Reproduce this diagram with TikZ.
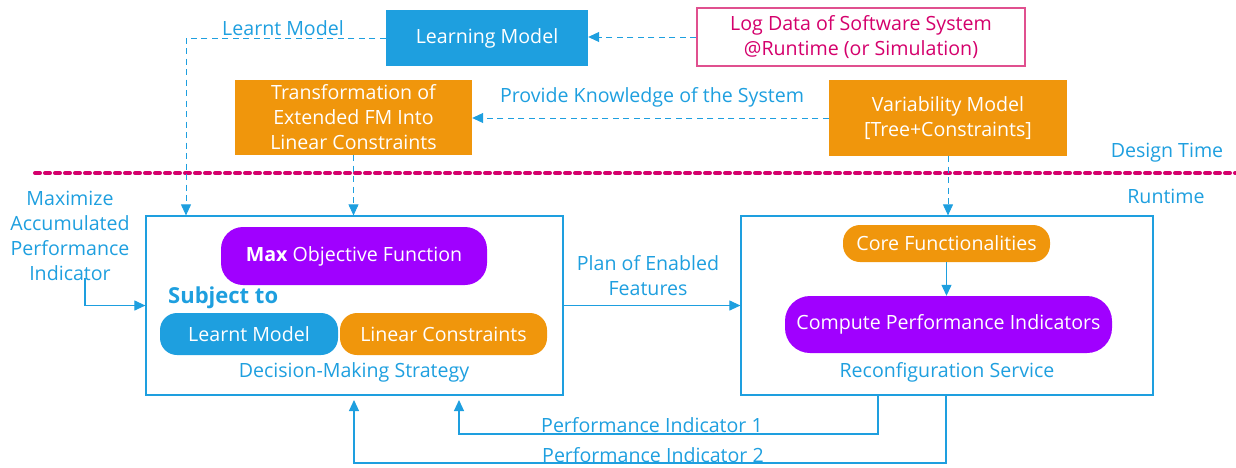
\documentclass[tikz,border=0pt]{standalone}
\usepackage{fontspec}
\setmainfont{Open Sans}
\usetikzlibrary{arrows.meta,calc}
\definecolor{mblue}{HTML}{1E9FDF}
\definecolor{morange}{HTML}{F0960C}
\definecolor{mpurple}{HTML}{A000FF}
\definecolor{mpink}{HTML}{D4006C}
\definecolor{mpinkb}{HTML}{E0508F}
\tikzset{
  base/.style={font=\fontsize{19.6}{25}\selectfont, inner sep=0pt, align=center},
  fillbox/.style={base, text=white, minimum width=#1},
  lbl/.style={base, text=mblue},
  frame/.style={draw=mblue, line width=1.2pt, fill=none},
  pill/.style={base, text=white, rounded corners=#1},
  arr/.style={draw=mblue, line width=1.1pt, -{Triangle[length=11pt,width=10pt]}},
  darr/.style={arr, dash pattern=on 6pt off 4.5pt, line width=0.9pt},
  sep/.style={draw=mpink, line width=4pt, dash pattern=on 5pt off 5pt, line cap=round}
}
\begin{document}
\begin{tikzpicture}[x=1pt,y=-1pt]
\useasboundingbox (0,0) rectangle (1236,467);
% top boxes
\node[fillbox=202pt, fill=mblue, minimum height=56pt] (lm) at (487,38) {Learning Model};
\node[base, draw=mpinkb, line width=1.1pt, text=mpink, minimum width=328pt, minimum height=58pt] (log) at (861,37) {Log Data of Software System\\@Runtime (or Simulation)};
\node[fillbox=237pt, fill=morange, minimum height=75pt] (tr) at (353.5,117.5) {Transformation of\\Extended FM Into\\Linear Constraints};
\node[fillbox=238pt, fill=morange, minimum height=76pt] (var) at (948,118) {Variability Model\\{}[Tree+Constraints]};
% separator
\coordinate (sepl) at (35,173);
\coordinate (sepr) at (1236,173);
\draw[sep] (sepl) -- (sepr);
\node[lbl] (dt) at (1167,153) {Design Time};
\node[lbl] (rt) at (1166,196) {Runtime};
% main frames
\node[frame, minimum width=417pt, minimum height=179pt] (dec) at (354.5,305.5) {};
\node[frame, minimum width=412pt, minimum height=179pt] (rec) at (947,305.5) {};
% inside decision
\node[pill=22pt, fill=mpurple, minimum width=266pt, minimum height=58pt] (max) at (354,256) {\textbf{Max} Objective Function};
\node[base, text=mblue, anchor=west, font=\fontsize{22}{26}\selectfont\bfseries] (subj) at (168,298) {Subject to};
\node[pill=17pt, fill=mblue, minimum width=178pt, minimum height=42pt] (lml) at (249,334) {Learnt Model};
\node[pill=17pt, fill=morange, minimum width=207pt, minimum height=42pt] (lc) at (443.5,334) {Linear Constraints};
\node[lbl] (dms) at (354,372) {Decision-Making Strategy};
% inside reconfiguration
\node[pill=17pt, fill=morange, minimum width=207pt, minimum height=37pt] (core) at (946.5,243.5) {Core Functionalities};
\node[pill=25pt, fill=mpurple, minimum width=327pt, minimum height=57pt] (cpi) at (948.5,324.5) {Compute Performance Indicators};
\node[lbl] (rs) at (947,372) {Reconfiguration Service};
% labels
\node[lbl] (lmlab) at (283,28) {Learnt Model};
\node[lbl] (pk) at (652,97) {Provide Knowledge of the System};
\node[lbl] (maxlab) at (70,236) {Maximize\\Accumulated\\Performance\\Indicator};
\node[lbl] (plan) at (648,276) {Plan of Enabled\\Features};
\node[lbl] (pi1) at (652,425) {Performance Indicator 1};
\node[lbl] (pi2) at (653,455) {Performance Indicator 2};
% coordinates
\coordinate (lmx) at (186,0);
\coordinate (mstart) at (85,278);
\coordinate (mturn) at (85,305.5);
\coordinate (p1a) at (878,395);
\coordinate (p1b) at (878,434);
\coordinate (p1c) at (459,434);
\coordinate (p1d) at (459,400);
\coordinate (p2a) at (946,395);
\coordinate (p2b) at (946,463);
\coordinate (p2c) at (354,463);
\coordinate (p2d) at (354,400);
% connectors
\draw[darr] (log.west) -- (log.west -| lm.east);
\draw[darr] (lm.west) -| (dec.north -| lmx);
\draw[darr] (var.west) -- (var.west -| tr.east);
\draw[darr] (tr.south) -- (tr.south |- dec.north);
\draw[darr] (var.south) -- (var.south |- rec.north);
\draw[arr] (core.south) -- (core.south |- cpi.north);
\draw[arr] (dec.east) -- (rec.west);
\draw[arr] (mstart) -- (mturn) -- (mturn -| dec.west);
\draw[arr] (p1a) -- (p1b) -- (p1c) -- (p1d);
\draw[arr] (p2a) -- (p2b) -- (p2c) -- (p2d);
\end{tikzpicture}
\end{document}
